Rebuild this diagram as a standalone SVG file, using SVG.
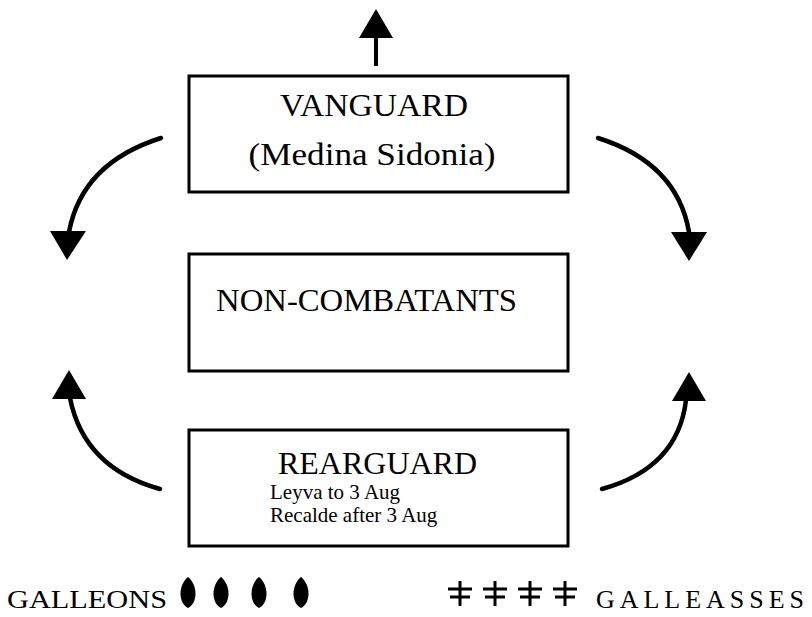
<svg xmlns="http://www.w3.org/2000/svg" width="812" height="617" viewBox="0 0 812 617">
<style>
.box{fill:none;stroke:#000;stroke-width:3}
.t{font-family:"Liberation Serif","Times New Roman",serif;fill:#000}
.big{font-size:31px}
.small{font-size:21px}
.leg{font-size:26px}
.curve{fill:none;stroke:#000;stroke-width:4.5;stroke-linecap:round}
.head{fill:#000}
.mk{stroke:#000;stroke-width:3;fill:none}
</style>
<rect width="812" height="617" fill="#fff"/>
<g id="connectors">
  <line x1="376" y1="66" x2="376" y2="36" stroke="#000" stroke-width="4"/>
  <polygon class="head" points="376,9 359,38 393,38"/>
  <path class="curve" d="M161,138 Q82,163 69,232"/>
  <polygon class="head" points="50,231 86,231 67,260"/>
  <path class="curve" d="M598,138 Q677,163 689,232"/>
  <polygon class="head" points="671,232 707,232 689,261"/>
  <path class="curve" d="M160,489 Q84,468 70,398"/>
  <polygon class="head" points="69,370 52,399 86,399"/>
  <path class="curve" d="M602,489 Q678,468 686,400"/>
  <polygon class="head" points="689,372 672,401 706,401"/>
</g>
<g id="vanguard">
  <rect class="box" x="189" y="76" width="379" height="116"/>
  <text class="t big" x="374" y="116" text-anchor="middle" textLength="188" lengthAdjust="spacingAndGlyphs">VANGUARD</text>
  <text class="t big" x="372" y="165" text-anchor="middle" textLength="247" lengthAdjust="spacingAndGlyphs">(Medina Sidonia)</text>
</g>
<g id="noncombatants">
  <rect class="box" x="189" y="254" width="379" height="117"/>
  <text class="t big" x="216" y="311" textLength="301" lengthAdjust="spacingAndGlyphs">NON-COMBATANTS</text>
</g>
<g id="rearguard">
  <rect class="box" x="189" y="430" width="379" height="116"/>
  <text class="t big" x="278" y="474" textLength="199" lengthAdjust="spacingAndGlyphs">REARGUARD</text>
  <text class="t small" x="270" y="499">Leyva to 3 Aug</text>
  <text class="t small" x="270" y="522">Recalde after 3 Aug</text>
</g>
<g id="legend-galleons">
  <text class="t leg" x="7" y="608" textLength="160" lengthAdjust="spacingAndGlyphs">GALLEONS</text>
  <path class="head" d="M188,577 C198,585 198,603 188,608 C178,603 178,585 188,577 Z"/>
  <path class="head" d="M221,577 C231,585 231,603 221,608 C211,603 211,585 221,577 Z"/>
  <path class="head" d="M259,577 C269,585 269,603 259,608 C249,603 249,585 259,577 Z"/>
  <path class="head" d="M301,577 C311,585 311,603 301,608 C291,603 291,585 301,577 Z"/>
</g>
<g id="legend-galleasses">
  <path class="mk" d="M460,581 V606 M448,589 H472 M450,597 H470"/>
  <path class="mk" d="M495,581 V606 M483,589 H507 M485,597 H505"/>
  <path class="mk" d="M530,581 V606 M518,589 H542 M520,597 H540"/>
  <path class="mk" d="M565,581 V606 M553,589 H577 M555,597 H575"/>
  <text class="t leg" x="596" y="608" textLength="208" lengthAdjust="spacing">GALLEASSES</text>
</g>
</svg>
